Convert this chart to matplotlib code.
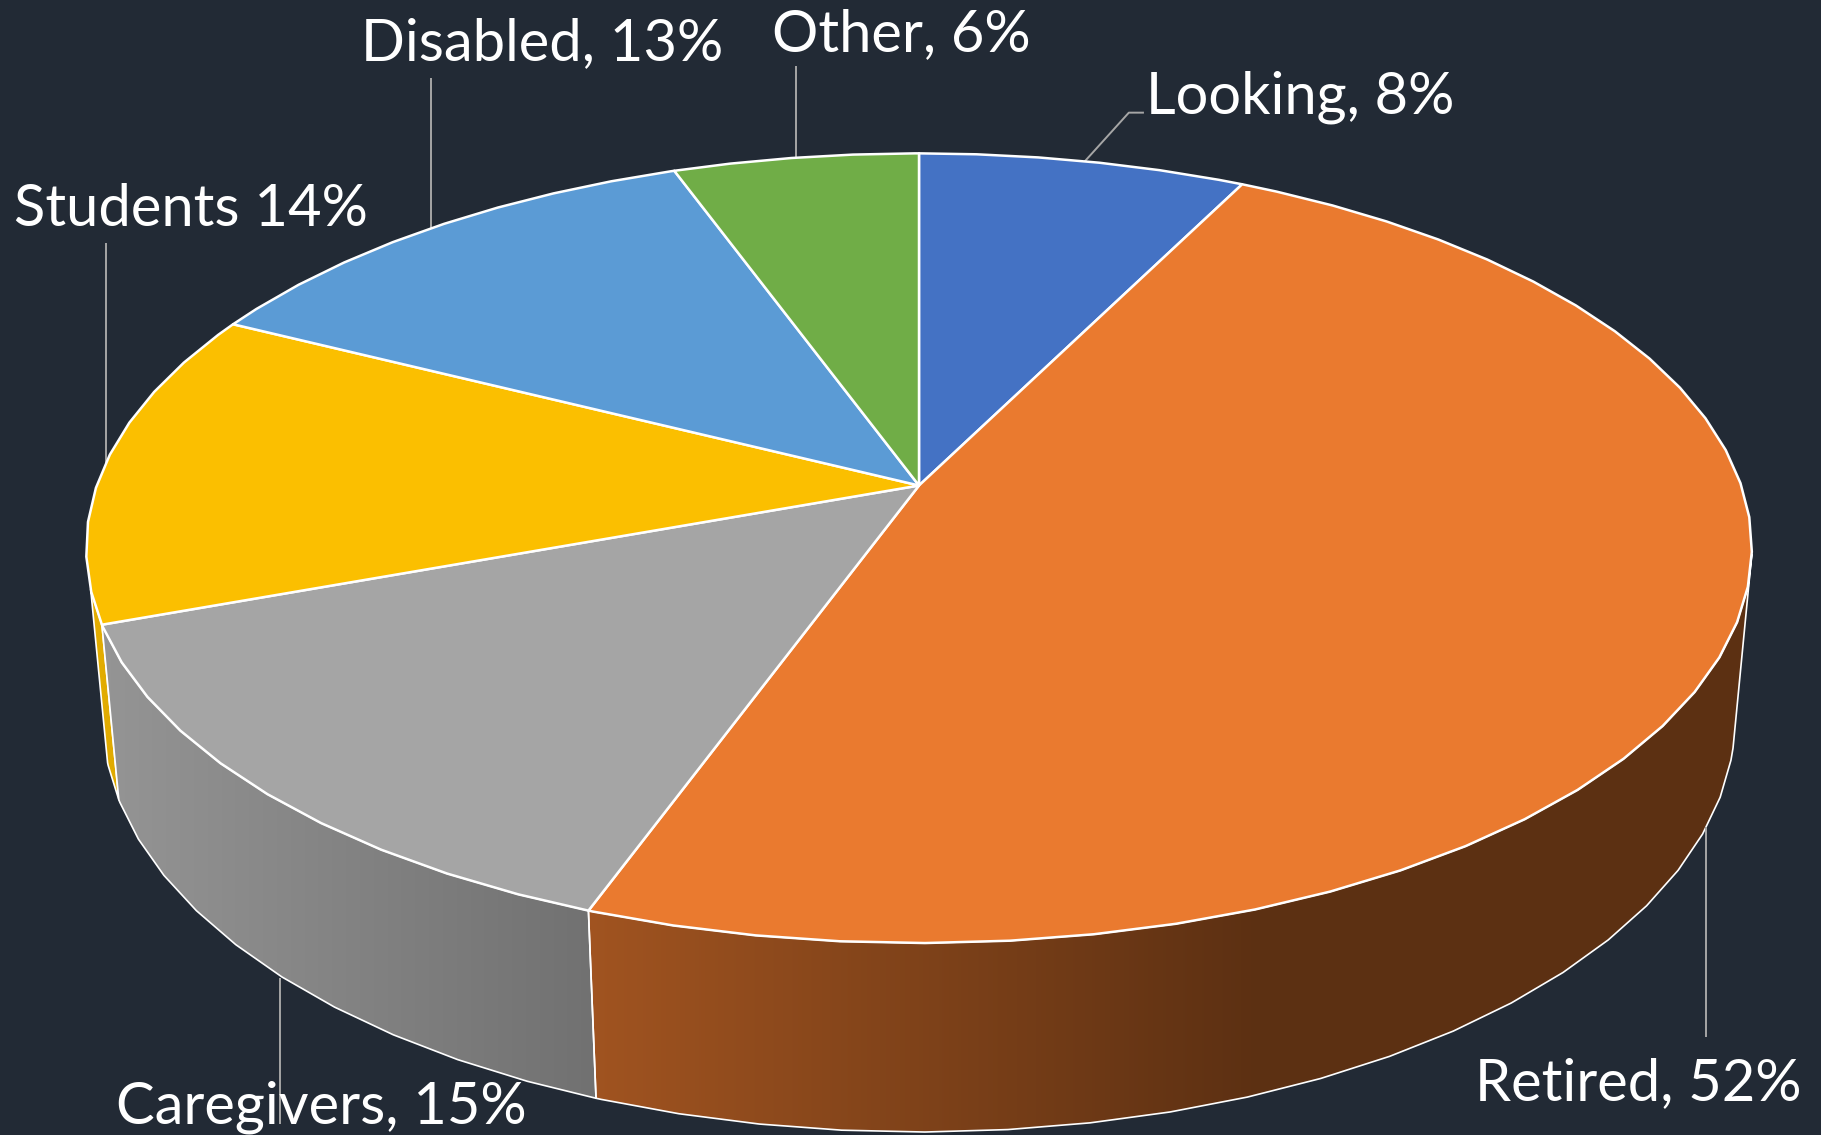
import numpy as np
import matplotlib
matplotlib.use("Agg")
import matplotlib.pyplot as plt
from matplotlib.patches import Polygon
from matplotlib.colors import to_rgb

# ---- data ----
categories = ["Looking", "Retired", "Caregivers", "Students", "Disabled", "Other"]
values = [8, 52, 15, 14, 13, 6]
label_texts = ["Looking, 8%", "Retired, 52%", "Caregivers, 15%",
               "Students 14%", "Disabled, 13%", "Other, 6%"]
colors = ["#4472C4", "#EA7A2F", "#A5A5A5", "#FBBF00", "#5B9BD5", "#70AD47"]

# ---- layout (pixels of the 1821x1135 canvas) ----
W, H = 1821, 1135
BG = "#222A35"
CX, CY = 919.0, 485.5
A, B, C = 822.3, 384.9, 171.9
K, M = 0.1588, 0.02
FACET_OFFSET = -0.35
FACET = 5.0
SCALE = 1821 / 1568
label_pos = [(987, 98), (1270, 947), (100, 967), (12, 195), (311, 52), (665, 44)]
leaders = [[(934, 139), (972, 97), (985, 97)],
           [(1469, 893), (1469, 712)],
           [(241, 842), (241, 968)],
           [(91, 209), (91, 400)],
           [(371, 67), (371, 197)],
           [(685, 57), (685, 135)]]
FONT_SIZE = 41.7


def project(theta_deg, z=0.0):
    t = np.radians(np.asarray(theta_deg, dtype=float))
    x, y = np.sin(t), np.cos(t)
    w = 1 + K * y + M * z
    return np.column_stack((CX + A * x / w, CY - (B * y - C * z) / w))


def arc(t0, t1):
    lo, hi = min(t0, t1), max(t0, t1)
    k0 = np.ceil((lo - FACET_OFFSET) / FACET)
    k1 = np.floor((hi - FACET_OFFSET) / FACET)
    grid = FACET_OFFSET + FACET * np.arange(k0, k1 + 1)
    pts = np.unique(np.concatenate(([lo], grid, [hi])))
    return pts if t0 < t1 else pts[::-1]


def shade(x):
    return np.maximum(0.397, 0.685 - 0.000438 * (x - 595.0))


fig = plt.figure(figsize=(W / 100, H / 100), dpi=100, facecolor=BG)
ax = fig.add_axes([0, 0, 1, 1])
ax.set_facecolor(BG)
ax.axis("off")

vals = np.array(values, dtype=float)
edges = np.concatenate(([0.0], np.cumsum(vals))) / vals.sum() * 360.0


def side(t_top0, t_top1, t_bot1, t_bot0, col, z):
    top = project(arc(t_top0, t_top1), 0)
    bot = project(arc(t_bot1, t_bot0), 1)
    poly = Polygon(np.vstack((top, bot)), closed=True, facecolor="none",
                   edgecolor="white", lw=1.2, joinstyle="round", zorder=z + 0.1)
    ax.add_patch(poly)
    xs = np.arange(0, W, 2.0) + 1
    rgb = np.array(to_rgb(col))
    img = (shade(xs)[:, None] * rgb)[None, :, :]
    im = ax.imshow(img, extent=(0, W, H, 0), aspect="auto", zorder=z,
                   interpolation="bilinear")
    im.set_clip_path(Polygon(np.vstack((top, bot)), closed=True, transform=ax.transData))


# sides: retired, caregivers, students sliver
side(edges[2], 100.0, 103.0, edges[2], colors[1], 2)
side(edges[3], edges[2], edges[2], edges[3], colors[2], 2)
side(255.0, edges[3], edges[3], 255.0, colors[3], 1.5)

# top faces
for i, col in enumerate(colors):
    rim = project(arc(edges[i], edges[i + 1]), 0)
    pts = np.vstack(([[CX, CY]], rim))
    ax.add_patch(Polygon(pts, closed=True, facecolor=col, edgecolor="white",
                         lw=1.8, joinstyle="round", zorder=4))

# leaders and labels
for seg in leaders:
    arr = np.array(seg, dtype=float) * SCALE
    ax.plot(arr[:, 0], arr[:, 1], color="#A6A6A6", lw=1.4, zorder=3,
            solid_capstyle="butt")

for txt, (lx, ly) in zip(label_texts, label_pos):
    ax.text(lx * SCALE, ly * SCALE, txt, color="white", fontsize=FONT_SIZE,
            family="Lato", ha="left", va="baseline", zorder=6)

ax.set_xlim(0, W)
ax.set_ylim(H, 0)
fig.savefig("out.png", dpi=100, facecolor=BG)
